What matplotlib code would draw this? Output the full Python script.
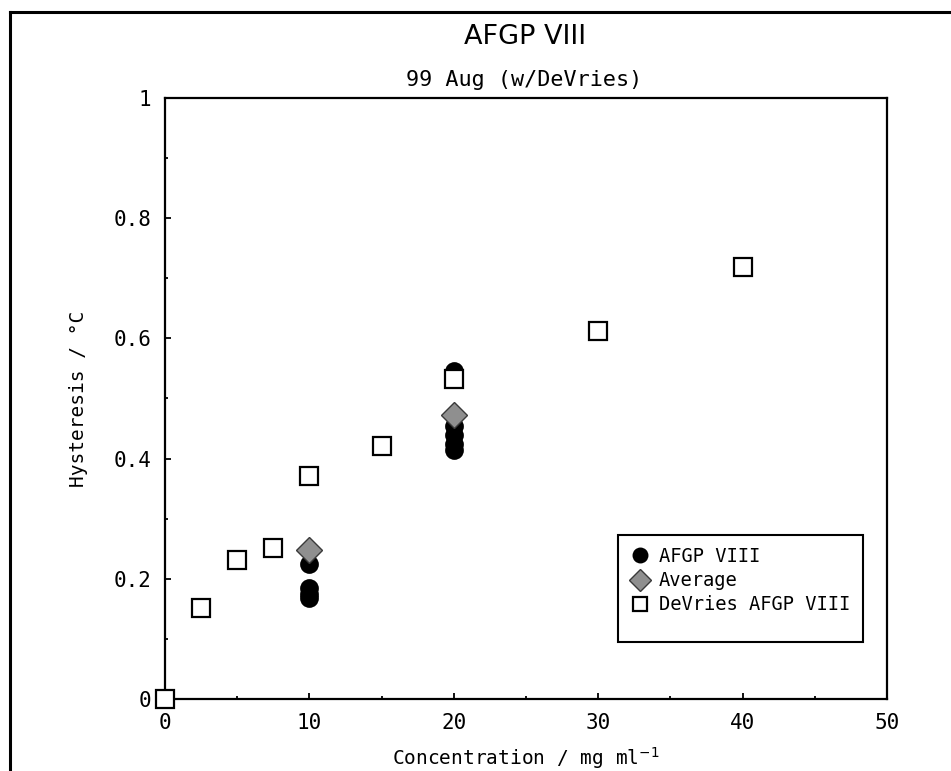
import matplotlib
matplotlib.use("Agg")
import matplotlib.pyplot as plt
from matplotlib.lines import Line2D
from matplotlib.patches import Rectangle
from matplotlib.ticker import MultipleLocator

# Data
afgp_x = [10, 10, 10, 10, 20, 20, 20, 20, 20]
afgp_y = [0.225, 0.185, 0.175, 0.168, 0.545, 0.455, 0.44, 0.425, 0.415]
avg_x = [10, 20]
avg_y = [0.248, 0.472]
devries_x = [0, 2.5, 5, 7.5, 10, 15, 20, 30, 40]
devries_y = [0.0, 0.151, 0.231, 0.251, 0.371, 0.421, 0.532, 0.612, 0.719]

title = "AFGP VIII"
subtitle = "99 Aug (w/DeVries)"
xlabel = "Concentration / mg ml$^{-1}$"
ylabel = "Hysteresis / °C"

W, H = 951, 771
fig = plt.figure(figsize=(W / 100, H / 100), dpi=100)
L, R, T, B = 165, 887, 98, 699
ax = fig.add_axes([L / W, 1 - B / H, (R - L) / W, (B - T) / H])

mono = "DejaVu Sans Mono"

ax.plot(afgp_x, afgp_y, linestyle="none", marker="o", ms=13.5, mfc="black",
        mec="black", mew=0, zorder=3, label="AFGP VIII", clip_on=False)
ax.plot(avg_x, avg_y, linestyle="none", marker="D", ms=13, mfc="#8f8f8f",
        mec="#3a3a3a", mew=1.0, zorder=4, label="Average", clip_on=False)
ax.plot(devries_x, devries_y, linestyle="none", marker="s", ms=12.5, mfc="white",
        mec="black", mew=1.6, zorder=5, label="DeVries AFGP VIII", clip_on=False)

ax.set_xlim(0, 50)
ax.set_ylim(0, 1)
ax.xaxis.set_minor_locator(MultipleLocator(5))
ax.yaxis.set_minor_locator(MultipleLocator(0.1))
ax.set_yticks([0, 0.2, 0.4, 0.6, 0.8, 1.0])
ax.set_yticklabels(["0", "0.2", "0.4", "0.6", "0.8", "1"])
ax.set_xticks([0, 10, 20, 30, 40, 50])
ax.set_xticklabels(["0", "10", "20", "30", "40", "50"])

ax.tick_params(which="major", direction="in", length=4, width=1.3, pad=10,
               labelsize=15)
ax.tick_params(which="minor", direction="in", length=2.5, width=1.3)
for lab in ax.get_xticklabels() + ax.get_yticklabels():
    lab.set_family(mono)
for s in ax.spines.values():
    s.set_linewidth(1.6)

ax.set_xlabel(xlabel, family=mono, fontsize=14, labelpad=9)
ax.set_ylabel(ylabel, family=mono, fontsize=14, labelpad=18)

fig.text(525 / W, 1 - 37 / H, title, ha="center", va="center",
         family="DejaVu Sans", fontsize=19.5)
fig.text(524 / W, 1 - 80 / H, subtitle, ha="center", va="center",
         family=mono, fontsize=15.7)

# legend box frame
ax.add_patch(Rectangle((618 / W, 1 - 642 / H), (863 - 618) / W, (642 - 535) / H,
                       transform=fig.transFigure, fill=True, facecolor="white",
                       edgecolor="black", lw=1.5, zorder=6, clip_on=False))

leg = ax.legend(loc="upper left", bbox_to_anchor=(631 / W, 1 - 547 / H),
                bbox_transform=fig.transFigure, borderaxespad=0,
                prop={"family": mono, "size": 13.5}, frameon=False,
                handlelength=1.0, handletextpad=0.5, labelspacing=0.28,
                borderpad=0.0, markerscale=0.85)
leg.set_zorder(7)

# outer frame
fig.add_artist(Line2D([10 / W, 10 / W], [1 - 12 / H, 0], color="black", lw=2.2,
                      transform=fig.transFigure))
fig.add_artist(Line2D([10 / W, 1], [1 - 12 / H, 1 - 12 / H], color="black", lw=2.2,
                      transform=fig.transFigure))

fig.savefig("out.png", dpi=100)
